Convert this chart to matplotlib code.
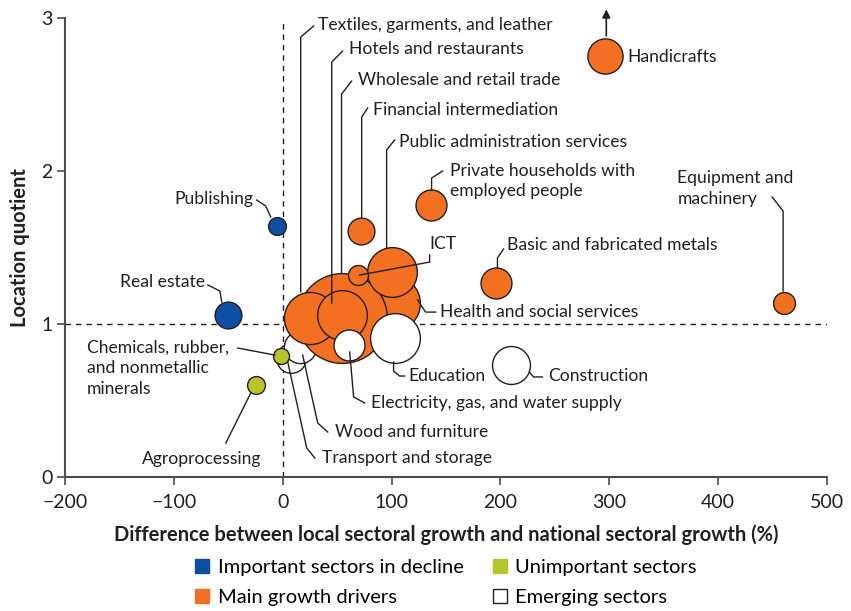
import numpy as np
import matplotlib
matplotlib.use("Agg")
import matplotlib.pyplot as plt
from matplotlib.lines import Line2D

plt.rcParams['font.family'] = ['Lato', 'DejaVu Sans']

# sectors, in drawing order (back to front)
sectors = [
    "Transport and storage", "Wood and furniture", "Chemicals, rubber,\nand nonmetallic\nminerals",
    "Health and social services", "Wholesale and retail trade", "Textiles, garments, and leather",
    "Hotels and restaurants", "Public administration services", "ICT", "Financial intermediation",
    "Education", "Electricity, gas, and water supply", "Construction", "Agroprocessing",
    "Publishing", "Real estate", "Private households with\nemployed people",
    "Basic and fabricated metals", "Equipment and\nmachinery", "Handicrafts",
]
growth_diff = [8, 16, -2, 100, 54, 25, 54, 100, 69, 72, 103, 61, 210, -25, -5, -50, 136, 196, 460, 296]
loc_quot = [0.78, 0.85, 0.79, 1.14, 1.04, 1.04, 1.06, 1.34, 1.32, 1.61, 0.91, 0.86, 0.73, 0.60,
            1.64, 1.06, 1.78, 1.27, 1.14, 2.75]
employment = [22, 26, 6.4, 78, 202, 68, 62, 62, 10, 18, 62, 24, 36, 8, 8, 18, 24, 24, 12, 31]
group = ["emerging", "emerging", "unimportant", "growth", "growth", "growth", "growth", "growth",
         "growth", "growth", "emerging", "emerging", "emerging", "unimportant", "decline", "decline",
         "growth", "growth", "growth", "growth"]

group_names = ["decline", "growth", "unimportant", "emerging"]
group_labels = ["Important sectors in decline", "Main growth drivers",
                "Unimportant sectors", "Emerging sectors"]
colors = {"decline": "#0B4EA2", "unimportant": "#B7C52A", "growth": "#F37021", "emerging": "#FFFFFF"}

# label placement: text position, alignment, leader line waypoints
labels = {
    "Textiles, garments, and leather": ((32, 2.954), 'left', [(16.5, 1.21), (16.5, 2.876), (28.4, 2.948)]),
    "Hotels and restaurants": ((60.6, 2.797), 'left', [(45, 1.137), (45, 2.712), (55, 2.784)]),
    "Wholesale and retail trade": ((68.8, 2.595), 'left', [(54, 1.333), (54, 2.503), (63.3, 2.588)]),
    "Financial intermediation": ((82.6, 2.399), 'left', [(72.5, 1.693), (72.5, 2.353), (78, 2.412)]),
    "Public administration services": ((106.4, 2.19), 'left', [(95.4, 1.497), (95.4, 2.137), (102.8, 2.203)]),
    "Private households with\nemployed people": ((153.2, 1.935), 'left', [(136.7, 1.876), (136.7, 1.954), (146.8, 2.0)]),
    "Handicrafts": ((316.5, 2.745), 'left', []),
    "Equipment and\nmachinery": ((362.4, 1.886), 'left', [(449.5, 1.83), (459.6, 1.739), (459.6, 1.216)]),
    "Basic and fabricated metals": ((206.4, 1.516), 'left', [(197.2, 1.366), (197.2, 1.431), (202.8, 1.49)]),
    "ICT": ((146.8, 1.523), 'center', [(70.6, 1.32), (134.9, 1.405), (134.9, 1.451)]),
    "Health and social services": ((144, 1.078), 'left', [(123.9, 1.157), (131.2, 1.078), (140.4, 1.078)]),
    "Education": ((115.6, 0.66), 'left', [(101.8, 0.752), (101.8, 0.693), (107.3, 0.66), (111.9, 0.66)]),
    "Construction": ((244, 0.66), 'left', [(226.6, 0.686), (230.3, 0.654), (238.5, 0.654)]),
    "Electricity, gas, and water supply": ((80.7, 0.484), 'left', [(61.5, 0.817), (65.1, 0.523), (75.2, 0.484)]),
    "Wood and furniture": ((47.7, 0.294), 'left', [(18.3, 0.797), (32.1, 0.353), (41.3, 0.294)]),
    "Transport and storage": ((35.8, 0.124), 'left', [(4.6, 0.752), (22, 0.19), (29.4, 0.124)]),
    "Chemicals, rubber,\nand nonmetallic\nminerals": ((-179.8, 0.712), 'left', [(-41.3, 0.843), (-7.3, 0.797)]),
    "Agroprocessing": ((-19.3, 0.118), 'right', [(-29.4, 0.549), (-52.3, 0.222)]),
    "Real estate": ((-71.6, 1.275), 'right', [(-68.8, 1.255), (-57.8, 1.216), (-56, 1.144)]),
    "Publishing": ((-27.5, 1.817), 'right', [(-23.9, 1.81), (-15.6, 1.771), (-11, 1.699)]),
}

ink = "#231F20"
fig = plt.figure(figsize=(8.51, 6.11), dpi=100)
ax = fig.add_axes([0.0764, 0.2193, 0.8955, 0.7512])

ax.axhline(1, color=ink, lw=1, ls=(0, (4, 3.5)), zorder=1)
ax.plot([0, 0], [0, 2.97], color=ink, lw=1, ls=(0, (4, 3.5)), zorder=1)

for i in range(len(sectors)):
    ax.scatter(growth_diff[i], loc_quot[i], s=employment[i] * 20.7, color=colors[group[i]],
               edgecolor=ink, linewidth=1.0, zorder=3 + i, clip_on=False)

for name, (pos, ha, path) in labels.items():
    ax.text(pos[0], pos[1], name, ha=ha, va='center', fontsize=12.6, color=ink,
            linespacing=1.35, zorder=50, clip_on=False)
    if path:
        px, py = zip(*path)
        ax.plot(px, py, color=ink, lw=1, zorder=40, clip_on=False)

# handicrafts is off the scale
ax.annotate("", xy=(297.2, 3.075), xytext=(297.2, 2.865),
            arrowprops=dict(arrowstyle="-|>", color=ink, lw=1.2, mutation_scale=12),
            annotation_clip=False, zorder=60)

ax.set_xlim(-200, 500)
ax.set_ylim(0, 3)
ax.set_xticks(np.arange(-200, 501, 100))
ax.set_yticks([0, 1, 2, 3])
for s in ['top', 'right']:
    ax.spines[s].set_visible(False)
for s in ['left', 'bottom']:
    ax.spines[s].set_color('#4D4D4F')
    ax.spines[s].set_linewidth(1.5)
ax.tick_params(direction='out', length=6, width=1.2, color='#4D4D4F', labelsize=14,
               labelcolor=ink, pad=3)
ax.tick_params(axis='x', pad=6)
ax.set_xlabel("Difference between local sectoral growth and national sectoral growth (%)",
              fontsize=14.5, fontweight='bold', color=ink, labelpad=10)
ax.set_ylabel("Location quotient", fontsize=14.5, fontweight='bold', color=ink, labelpad=8)

handles = [Line2D([], [], ls='none', marker='s', markersize=10.5, markerfacecolor=colors[g],
                  markeredgecolor=(ink if g == "emerging" else colors[g]), markeredgewidth=1)
           for g in group_names]
fig.legend(handles, group_labels, ncol=2, loc='upper left', bbox_to_anchor=(0.229, 0.086),
           frameon=False, fontsize=14.5, handlelength=0.75, handletextpad=0.4,
           columnspacing=1.4, labelspacing=0.68, borderpad=0, borderaxespad=0)

fig.savefig("out.png", dpi=100)
